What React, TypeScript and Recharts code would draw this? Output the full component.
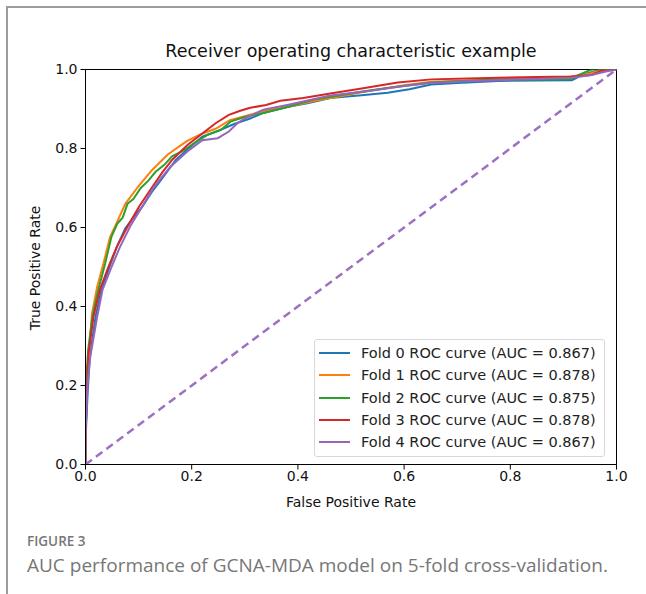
import React from 'react';
import { LineChart, Line, XAxis, YAxis, Legend, ReferenceArea } from 'recharts';

// False positive rate / true positive rate per fold
const FOLD0_FPR = [0, 0, 0.004, 0.008, 0.019, 0.03, 0.045, 0.059, 0.075, 0.09, 0.107, 0.125, 0.142, 0.17, 0.198, 0.22, 0.25, 0.28, 0.31, 0.335, 0.38, 0.42, 0.461, 0.52, 0.569, 0.61, 0.651, 0.7, 0.777, 0.85, 0.916, 0.935, 0.966, 1];
const FOLD0_TPR = [0, 0.06, 0.18, 0.27, 0.374, 0.442, 0.5, 0.551, 0.598, 0.625, 0.653, 0.69, 0.72, 0.771, 0.805, 0.83, 0.845, 0.862, 0.876, 0.89, 0.905, 0.915, 0.928, 0.935, 0.941, 0.95, 0.962, 0.966, 0.971, 0.972, 0.973, 0.986, 0.998, 1];

const FOLD1_FPR = [0, 0, 0.003, 0.007, 0.012, 0.022, 0.034, 0.046, 0.058, 0.075, 0.1, 0.125, 0.155, 0.19, 0.215, 0.245, 0.272, 0.3, 0.335, 0.38, 0.43, 0.48, 0.53, 0.6, 0.651, 0.72, 0.8, 0.9, 0.95, 0.97, 1];
const FOLD1_TPR = [0, 0.1, 0.2, 0.29, 0.38, 0.45, 0.51, 0.575, 0.61, 0.66, 0.705, 0.745, 0.785, 0.818, 0.835, 0.85, 0.872, 0.882, 0.895, 0.905, 0.92, 0.932, 0.945, 0.96, 0.969, 0.972, 0.976, 0.979, 0.99, 0.998, 1];

const FOLD2_FPR = [0, 0, 0.001, 0.005, 0.013, 0.024, 0.037, 0.049, 0.06, 0.07, 0.079, 0.09, 0.104, 0.118, 0.132, 0.148, 0.163, 0.185, 0.204, 0.229, 0.255, 0.273, 0.298, 0.335, 0.38, 0.43, 0.48, 0.524, 0.58, 0.651, 0.7, 0.777, 0.85, 0.916, 0.928, 0.953, 1];
const FOLD2_TPR = [0, 0.12, 0.206, 0.29, 0.374, 0.442, 0.509, 0.577, 0.61, 0.625, 0.66, 0.672, 0.7, 0.718, 0.741, 0.758, 0.78, 0.795, 0.813, 0.834, 0.847, 0.868, 0.879, 0.89, 0.905, 0.924, 0.935, 0.945, 0.955, 0.967, 0.97, 0.975, 0.975, 0.976, 0.986, 1, 1];

const FOLD3_FPR = [0, 0, 0.002, 0.005, 0.015, 0.027, 0.043, 0.059, 0.079, 0.101, 0.126, 0.145, 0.163, 0.192, 0.22, 0.245, 0.27, 0.29, 0.31, 0.34, 0.367, 0.41, 0.461, 0.52, 0.588, 0.651, 0.72, 0.777, 0.85, 0.916, 0.953, 0.972, 1];
const FOLD3_TPR = [0, 0.054, 0.16, 0.273, 0.374, 0.442, 0.5, 0.551, 0.602, 0.653, 0.703, 0.74, 0.771, 0.809, 0.838, 0.864, 0.885, 0.895, 0.903, 0.91, 0.921, 0.928, 0.939, 0.952, 0.967, 0.975, 0.977, 0.979, 0.981, 0.982, 0.986, 0.997, 1];

const FOLD4_FPR = [0, 0, 0.004, 0.009, 0.022, 0.032, 0.049, 0.065, 0.085, 0.107, 0.129, 0.16, 0.195, 0.22, 0.249, 0.27, 0.286, 0.3, 0.335, 0.38, 0.461, 0.53, 0.6, 0.651, 0.72, 0.777, 0.85, 0.916, 0.953, 0.98, 1];
const FOLD4_TPR = [0, 0.08, 0.206, 0.273, 0.374, 0.442, 0.5, 0.551, 0.605, 0.653, 0.703, 0.754, 0.796, 0.821, 0.826, 0.843, 0.864, 0.876, 0.898, 0.91, 0.934, 0.945, 0.958, 0.966, 0.97, 0.973, 0.976, 0.979, 0.986, 0.995, 1];

const FOLD_AUC = [0.867, 0.878, 0.875, 0.878, 0.867];
const FOLD_COLORS = ['#1f77b4', '#ff7f0e', '#2ca02c', '#d62728', '#9467bd'];
const AXIS_TICKS = [0, 0.2, 0.4, 0.6, 0.8, 1.0];
const CHANCE_X = [0, 1];
const CHANCE_Y = [0, 1];

const zip = (xs: number[], ys: number[]) => xs.map((x, i) => ({ x, y: ys[i] }));

const folds = [
  zip(FOLD0_FPR, FOLD0_TPR),
  zip(FOLD1_FPR, FOLD1_TPR),
  zip(FOLD2_FPR, FOLD2_TPR),
  zip(FOLD3_FPR, FOLD3_TPR),
  zip(FOLD4_FPR, FOLD4_TPR),
];
const chance = zip(CHANCE_X, CHANCE_Y);

const FONT = '"DejaVu Sans", sans-serif';

const renderLegend = (props: any) => {
  const items = (props.payload || []).filter((p: any) => p.type !== 'none');
  return (
    <div style={{
      border: '1px solid #d8d8d8', borderRadius: 3, background: 'rgba(255,255,255,0.8)',
      padding: '2px 8px 3px 4px', fontFamily: FONT, fontSize: 14.5, color: '#222', textAlign: 'left',
    }}>
      {items.map((p: any) => (
        <div key={p.value} style={{ display: 'flex', alignItems: 'center', height: 22.3, whiteSpace: 'nowrap' }}>
          <span style={{ display: 'inline-block', width: 31, height: 2, background: p.color, marginRight: 11 }} />
          <span>{p.value}</span>
        </div>
      ))}
    </div>
  );
};

const App: React.FC = () => {
  return (
    <div style={{ position: 'relative', width: 646, height: 594, background: '#fff', overflow: 'hidden' }}>
      <style>{'body{margin:0}'}</style>
      {/* page frame */}
      <div style={{ position: 'absolute', left: 6, top: 6, width: 660, height: 620, borderTop: '2px solid #9c9c9c', borderLeft: '2px solid #9c9c9c' }} />

      <div style={{ position: 'absolute', left: 0, top: 41, width: 702, textAlign: 'center', fontFamily: FONT, fontSize: 17.5, color: '#111' }}>
        Receiver operating characteristic example
      </div>

      <div style={{
        position: 'absolute', left: 35, top: 268, transform: 'translate(-50%, -50%) rotate(-90deg)',
        whiteSpace: 'nowrap', fontFamily: FONT, fontSize: 14, color: '#111',
      }}>
        True Positive Rate
      </div>

      <div style={{ position: 'absolute', left: 0, top: 0 }}>
        <LineChart width={646} height={520} margin={{ top: 69.5, right: 29.5, left: 0, bottom: 0 }}>
          <XAxis
            dataKey="x" type="number" domain={[0, 1]} ticks={AXIS_TICKS} allowDataOverflow
            tickFormatter={(v: number) => v.toFixed(1)} height={55.5}
            stroke="#000" tickSize={5} tickMargin={2}
            tick={{ fill: '#111', fontSize: 14, fontFamily: FONT }}
            label={{ value: 'False Positive Rate', position: 'insideBottom', offset: 13, fill: '#111', fontSize: 14, fontFamily: FONT }}
          />
          <YAxis
            dataKey="y" type="number" domain={[0, 1]} ticks={AXIS_TICKS} allowDataOverflow
            tickFormatter={(v: number) => v.toFixed(1)} width={85.5}
            stroke="#000" tickSize={5} tickMargin={3}
            tick={{ fill: '#111', fontSize: 14, fontFamily: FONT }}
          />
          <ReferenceArea x1={0} x2={1} y1={0} y2={1} fill="none" stroke="#000" strokeWidth={1} ifOverflow="visible" />
          {folds.map((d, i) => (
            <Line
              key={i} data={d} dataKey="y" name={`Fold ${i} ROC curve (AUC = ${FOLD_AUC[i].toFixed(3)})`}
              type="linear" stroke={FOLD_COLORS[i]} strokeWidth={2} dot={false} isAnimationActive={false}
            />
          ))}
          <Line
            data={chance} dataKey="y" name="chance" legendType="none" type="linear"
            stroke="#9d70c0" strokeWidth={2.5} strokeDasharray="8 5" dot={false} isAnimationActive={false}
          />
          <Legend
            content={renderLegend} layout="horizontal" verticalAlign="middle" align="center"
            wrapperStyle={{ position: 'absolute', left: 314, top: 339, width: 'auto' }}
          />
        </LineChart>
      </div>

      <div style={{ position: 'absolute', left: 27, top: 535, lineHeight: 1, fontFamily: '"Open Sans", sans-serif', fontSize: 13.5, fontWeight: 600, color: '#777' }}>
        FIGURE 3
      </div>
      <div style={{ position: 'absolute', left: 27, top: 556, lineHeight: 1, fontFamily: '"Open Sans", sans-serif', fontSize: 19, color: '#777', whiteSpace: 'nowrap' }}>
        AUC performance of GCNA-MDA model on 5-fold cross-validation.
      </div>
    </div>
  );
};

export default App;
